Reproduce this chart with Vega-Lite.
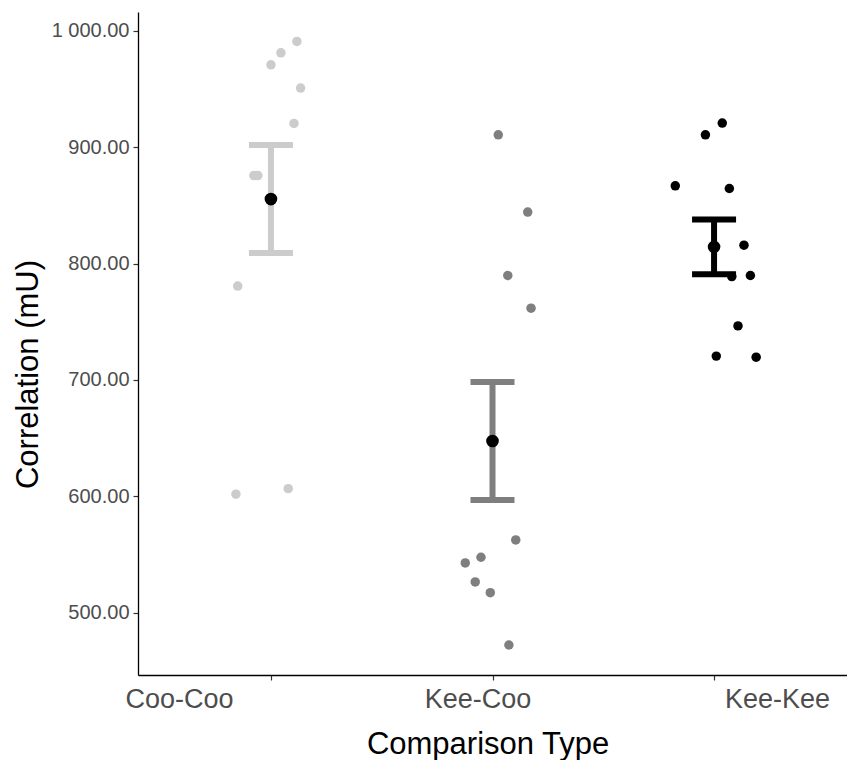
{
  "$schema": "https://vega.github.io/schema/vega-lite/v6.json",
  "width": 709,
  "height": 663,
  "autosize": {"type": "none"},
  "padding": {"left": 138, "top": 12, "right": 0, "bottom": 85},
  "background": "white",
  "config": {"view": {"stroke": null}, "font": "Liberation Sans"},
  "data": {
    "values": [
      {"type": "Coo-Coo", "idx": 1, "jx": 1.117, "value": 991.0},
      {"type": "Coo-Coo", "idx": 1, "jx": 1.045, "value": 981.2},
      {"type": "Coo-Coo", "idx": 1, "jx": 1.0, "value": 970.9},
      {"type": "Coo-Coo", "idx": 1, "jx": 1.134, "value": 950.9},
      {"type": "Coo-Coo", "idx": 1, "jx": 1.104, "value": 920.5},
      {"type": "Coo-Coo", "idx": 1, "jx": 0.923, "value": 875.7},
      {"type": "Coo-Coo", "idx": 1, "jx": 0.941, "value": 875.7},
      {"type": "Coo-Coo", "idx": 1, "jx": 0.85, "value": 780.7},
      {"type": "Coo-Coo", "idx": 1, "jx": 0.842, "value": 601.8},
      {"type": "Coo-Coo", "idx": 1, "jx": 1.078, "value": 606.6},
      {"type": "Kee-Coo", "idx": 2, "jx": 2.026, "value": 910.7},
      {"type": "Kee-Coo", "idx": 2, "jx": 2.159, "value": 844.3},
      {"type": "Kee-Coo", "idx": 2, "jx": 2.069, "value": 789.8},
      {"type": "Kee-Coo", "idx": 2, "jx": 2.174, "value": 761.7},
      {"type": "Kee-Coo", "idx": 2, "jx": 2.105, "value": 562.5},
      {"type": "Kee-Coo", "idx": 2, "jx": 1.948, "value": 547.6},
      {"type": "Kee-Coo", "idx": 2, "jx": 1.877, "value": 542.7},
      {"type": "Kee-Coo", "idx": 2, "jx": 1.922, "value": 526.4},
      {"type": "Kee-Coo", "idx": 2, "jx": 1.99, "value": 517.2},
      {"type": "Kee-Coo", "idx": 2, "jx": 2.074, "value": 472.2},
      {"type": "Kee-Kee", "idx": 3, "jx": 3.037, "value": 920.8},
      {"type": "Kee-Kee", "idx": 3, "jx": 2.961, "value": 910.7},
      {"type": "Kee-Kee", "idx": 3, "jx": 2.825, "value": 866.9},
      {"type": "Kee-Kee", "idx": 3, "jx": 3.069, "value": 864.6},
      {"type": "Kee-Kee", "idx": 3, "jx": 3.135, "value": 815.9},
      {"type": "Kee-Kee", "idx": 3, "jx": 3.08, "value": 788.9},
      {"type": "Kee-Kee", "idx": 3, "jx": 3.164, "value": 789.8},
      {"type": "Kee-Kee", "idx": 3, "jx": 3.108, "value": 746.5},
      {"type": "Kee-Kee", "idx": 3, "jx": 3.01, "value": 720.5},
      {"type": "Kee-Kee", "idx": 3, "jx": 3.19, "value": 719.6}
    ]
  },
  "layer": [
    {
      "mark": {"type": "circle", "size": 90, "opacity": 1},
      "encoding": {
        "x": {
          "field": "jx",
          "type": "quantitative",
          "title": "Comparison Type",
          "scale": {"domain": [0.4, 3.6], "nice": false, "zero": false},
          "axis": {
            "values": [1, 2, 3],
            "labelExpr": "datum.value == 1 ? 'Coo-Coo' : datum.value == 2 ? 'Kee-Coo' : 'Kee-Kee'",
            "grid": false,
            "tickSize": 5,
            "tickWidth": 1.2,
            "tickColor": "#333333",
            "domainColor": "#000000",
            "domainWidth": 1.3,
            "labelFontSize": 27,
            "labelColor": "#4d4d4d",
            "labelPadding": 27,
            "labelBaseline": "alphabetic",
            "labelOffset": {"expr": "datum.value == 1 ? -92 : datum.value == 2 ? -15 : 63"},
            "labelFlush": false,
            "labelOverlap": false,
            "titleFontSize": 31,
            "titleFontWeight": "normal",
            "titleColor": "#000000",
            "titleX": 349.6,
            "titleY": 78,
            "titleBaseline": "alphabetic",
            "titleAlign": "center"
          }
        },
        "y": {
          "field": "value",
          "type": "quantitative",
          "title": "Correlation (mU)",
          "scale": {"domain": [446.4, 1016.3], "nice": false, "zero": false},
          "axis": {
            "values": [500, 600, 700, 800, 900, 1000],
            "labelExpr": "replace(format(datum.value, ',.2f'), ',', ' ')",
            "grid": false,
            "tickSize": 5,
            "tickWidth": 1.2,
            "tickColor": "#333333",
            "domainColor": "#000000",
            "domainWidth": 1.3,
            "labelFontSize": 20,
            "labelColor": "#4d4d4d",
            "labelPadding": 4,
            "labelFlush": false,
            "labelOverlap": false,
            "titleFontSize": 31,
            "titleFontWeight": "normal",
            "titleColor": "#000000",
            "titleAngle": -90,
            "titleX": -100.5,
            "titleY": 362,
            "titleBaseline": "alphabetic",
            "titleAlign": "center"
          }
        },
        "color": {
          "field": "type",
          "type": "nominal",
          "scale": {"domain": ["Coo-Coo", "Kee-Coo", "Kee-Kee"], "range": ["#cccccc", "#7f7f7f", "#000000"]},
          "legend": null
        }
      }
    },
    {
      "mark": {"type": "errorbar", "extent": "stderr", "orient": "vertical", "ticks": {"size": 44, "thickness": 6, "opacity": 1}, "rule": {"strokeWidth": 6, "opacity": 1}},
      "encoding": {
        "x": {"field": "idx", "type": "quantitative", "title": "Comparison Type"},
        "y": {"field": "value", "type": "quantitative", "title": "Correlation (mU)"},
        "color": {"field": "type", "type": "nominal", "legend": null}
      }
    },
    {
      "mark": {"type": "circle", "size": 160, "color": "#000000", "opacity": 1},
      "encoding": {
        "x": {"field": "idx", "type": "quantitative", "title": "Comparison Type"},
        "y": {"field": "value", "aggregate": "mean", "type": "quantitative", "title": "Correlation (mU)"}
      }
    }
  ]
}
